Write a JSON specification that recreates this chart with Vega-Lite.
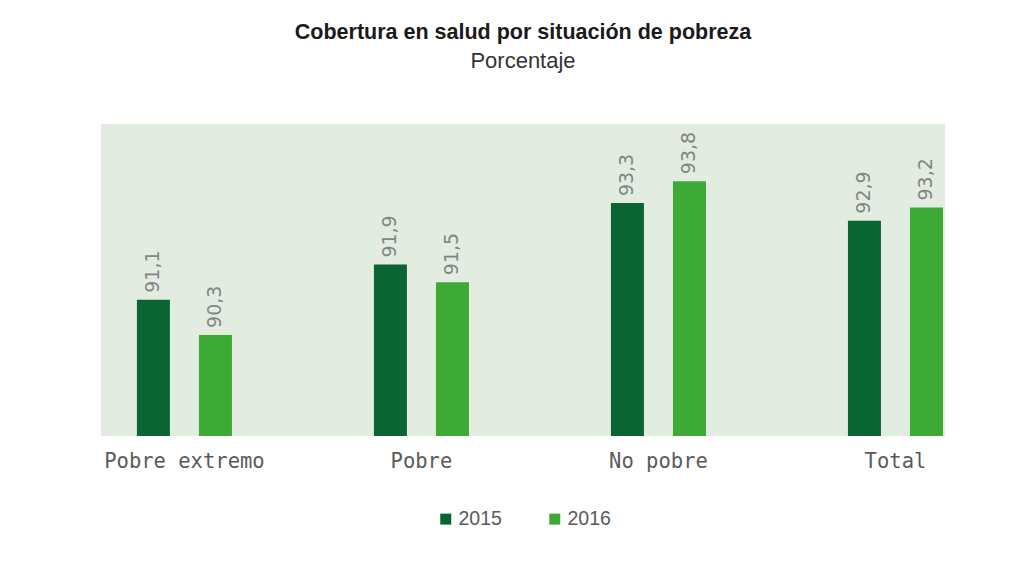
{
  "$schema": "https://vega.github.io/schema/vega-lite/v6.json",
  "width": 844,
  "height": 312,
  "autosize": "none",
  "padding": {"left": 101, "top": 124, "right": 76, "bottom": 133},
  "background": "white",
  "config": {
    "locale": {"number": {"decimal": ",", "thousands": ".", "grouping": [3], "currency": ["", " €"]}},
    "view": {"fill": "#e2ece0", "stroke": null}
  },
  "title": {
    "text": "Cobertura en salud por situación de pobreza",
    "subtitle": "Porcentaje",
    "font": "Liberation Sans",
    "fontSize": 21.5,
    "fontWeight": "bold",
    "color": "#1a1a1a",
    "subtitleFont": "Liberation Sans",
    "subtitleFontSize": 22,
    "subtitleColor": "#333333",
    "subtitlePadding": 8,
    "offset": 52,
    "anchor": "middle"
  },
  "data": {
    "values": [
      {"situacion": "Pobre extremo", "anio": "2015", "valor": 91.1},
      {"situacion": "Pobre extremo", "anio": "2016", "valor": 90.3},
      {"situacion": "Pobre", "anio": "2015", "valor": 91.9},
      {"situacion": "Pobre", "anio": "2016", "valor": 91.5},
      {"situacion": "No pobre", "anio": "2015", "valor": 93.3},
      {"situacion": "No pobre", "anio": "2016", "valor": 93.8},
      {"situacion": "Total", "anio": "2015", "valor": 92.9},
      {"situacion": "Total", "anio": "2016", "valor": 93.2}
    ]
  },
  "encoding": {
    "x": {
      "field": "situacion",
      "type": "nominal",
      "sort": ["Pobre extremo", "Pobre", "No pobre", "Total"],
      "scale": {"paddingInner": 0.599, "paddingOuter": 0.08, "align": 0.947},
      "axis": {
        "title": null,
        "labelAngle": 0,
        "ticks": false,
        "domain": false,
        "grid": false,
        "labelFont": "DejaVu Sans Mono",
        "labelFontSize": 20.5,
        "labelColor": "#5a5a5a",
        "labelPadding": 15
      }
    },
    "xOffset": {
      "field": "anio",
      "type": "nominal",
      "scale": {"paddingInner": 0.468, "paddingOuter": 0}
    },
    "y": {
      "field": "valor",
      "type": "quantitative",
      "scale": {"domain": [88, 95.1], "zero": false},
      "axis": null
    }
  },
  "layer": [
    {
      "mark": {"type": "bar", "clip": true},
      "encoding": {
        "color": {
          "field": "anio",
          "type": "nominal",
          "scale": {"domain": ["2015", "2016"], "range": ["#0a6433", "#3daa35"]},
          "legend": {
            "title": null,
            "orient": "none",
            "legendX": 335,
            "legendY": 385,
            "direction": "horizontal",
            "symbolType": "square",
            "symbolSize": 121,
            "symbolStrokeWidth": 0,
            "labelFont": "Liberation Sans",
            "labelFontSize": 19.5,
            "labelColor": "#595959",
            "labelOffset": 3,
            "columnPadding": 43
          }
        }
      }
    },
    {
      "mark": {
        "type": "text",
        "angle": -90,
        "align": "left",
        "baseline": "middle",
        "dx": 7,
        "font": "DejaVu Sans",
        "fontSize": 19,
        "color": "#858585"
      },
      "encoding": {
        "text": {"field": "valor", "type": "quantitative", "format": ".1f"}
      }
    }
  ]
}
